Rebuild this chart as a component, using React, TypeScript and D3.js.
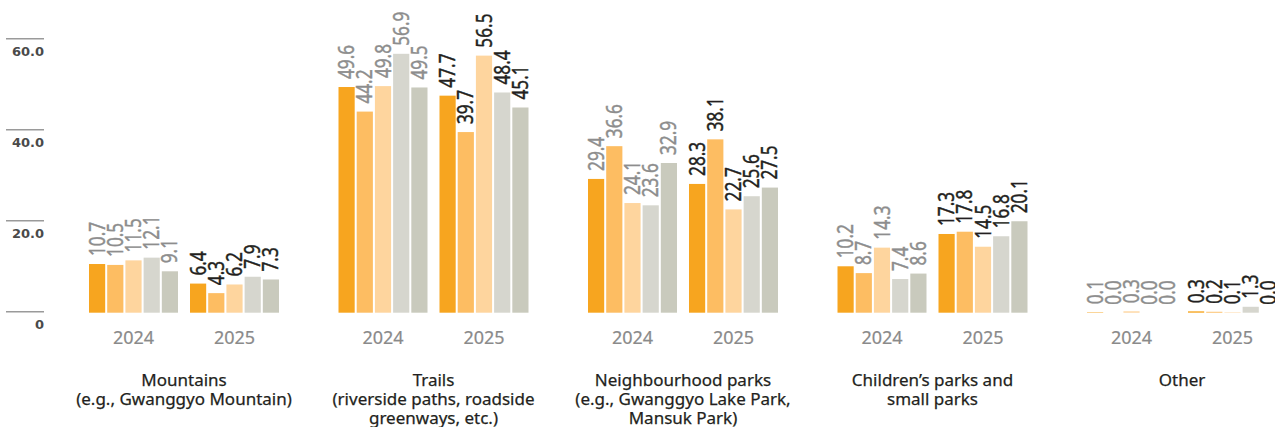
import React from "react";
import * as d3 from "d3";

const categories = ["Mountains", "Trails", "Neighbourhood parks", "Children's parks", "Other"];
const categoryLabels: string[][] = [
  ["Mountains", "(e.g., Gwanggyo Mountain)"],
  ["Trails", "(riverside paths, roadside", "greenways, etc.)"],
  ["Neighbourhood parks", "(e.g., Gwanggyo Lake Park,", "Mansuk Park)"],
  ["Children’s parks and", "small parks"],
  ["Other"],
];
const years = ["2024", "2025"];
const series = ["Series 1", "Series 2", "Series 3", "Series 4", "Series 5"];
const values2024: number[][] = [
  [10.7, 10.5, 11.5, 12.1, 9.1],
  [49.6, 44.2, 49.8, 56.9, 49.5],
  [29.4, 36.6, 24.1, 23.6, 32.9],
  [10.2, 8.7, 14.3, 7.4, 8.6],
  [0.1, 0.0, 0.3, 0.0, 0.0],
];
const values2025: number[][] = [
  [6.4, 4.3, 6.2, 7.9, 7.3],
  [47.7, 39.7, 56.5, 48.4, 45.1],
  [28.3, 38.1, 22.7, 25.6, 27.5],
  [17.3, 17.8, 14.5, 16.8, 20.1],
  [0.3, 0.2, 0.1, 1.3, 0.0],
];
const yTicks = [0, 20, 40, 60];
const yTickLabels = ["0", "20.0", "40.0", "60.0"];

const colors = ["#F7A51F", "#FDBD62", "#FED59E", "#D6D6CE", "#C9CABD"];
const labelColors = ["#8d8d8d", "#231f20"];

export default function App() {
  const W = 1275;
  const H = 427;
  const x0 = d3
    .scaleBand<string>()
    .domain(categories)
    .range([89, 89 + 4 * 249.5 + 190])
    .paddingInner(59.5 / 249.5)
    .paddingOuter(0);
  const x1 = d3
    .scaleBand<string>()
    .domain(years)
    .range([0, x0.bandwidth()])
    .paddingInner(12 / 101)
    .paddingOuter(0);
  const x2 = d3
    .scaleBand<string>()
    .domain(series)
    .range([0, x1.bandwidth()])
    .paddingInner(2 / 18)
    .paddingOuter(0);
  const y = d3.scaleLinear().domain([0, 60]).range([312.7, 39.7]);

  const data = [values2024, values2025];

  return (
    <svg
      width={W}
      height={H}
      style={{ position: "absolute", left: 0, top: 0, background: "#fff" }}
    >
      <g>
        {yTicks.map((t, i) => (
          <g key={t}>
            <line x1={6} x2={44} y1={y(t) - 1} y2={y(t) - 1} stroke="#9a9a9a" strokeWidth={1.5} />
            <text
              x={44}
              y={y(t) + 16}
              textAnchor="end"
              fontFamily="DejaVu Sans"
              fontWeight="bold"
              fontSize={13}
              fill="#4a4a4a"
            >
              {yTickLabels[i]}
            </text>
          </g>
        ))}
      </g>
      {categories.map((c, ci) => {
        const cx0 = x0(c)!;
        return (
          <g key={c}>
            {years.map((yr, yi) => {
              const gx = cx0 + x1(yr)!;
              return (
                <g key={yr}>
                  {series.map((s, si) => {
                    const v = data[yi][ci][si];
                    const bx = gx + x2(s)!;
                    const bw = x2.bandwidth();
                    return (
                      <rect
                        key={s}
                        x={bx}
                        y={y(v)}
                        width={bw}
                        height={y(0) - y(v)}
                        fill={colors[si]}
                      />
                    );
                  })}
                  {series.map((s, si) => {
                    const v = data[yi][ci][si];
                    const cx = gx + x2(s)! + x2.bandwidth() / 2;
                    return (
                      <text
                        key={"l" + s}
                        transform={`translate(${cx},${y(v) - 8}) rotate(-90) scale(0.82,1)`}
                        dy="0.36em"
                        fontFamily="Noto Sans"
                        fontSize={21}
                        fill={labelColors[yi]}
                        stroke={labelColors[yi]}
                        strokeWidth={0.45}
                      >
                        {v.toFixed(1)}
                      </text>
                    );
                  })}
                  <text
                    x={gx + x1.bandwidth() / 2}
                    y={344}
                    textAnchor="middle"
                    fontFamily="Noto Sans"
                    fontSize={18}
                    fill="#8a8a8a"
                    stroke="#8a8a8a"
                    strokeWidth={0.2}
                  >
                    {yr}
                  </text>
                </g>
              );
            })}
            {categoryLabels[ci].map((line, li) => (
              <text
                key={li}
                x={cx0 + x0.bandwidth() / 2}
                y={386 + li * 19}
                textAnchor="middle"
                fontFamily="Noto Sans"
                fontSize={17}
                fill="#231f20"
                stroke="#231f20"
                strokeWidth={0.25}
              >
                {line}
              </text>
            ))}
          </g>
        );
      })}
    </svg>
  );
}
